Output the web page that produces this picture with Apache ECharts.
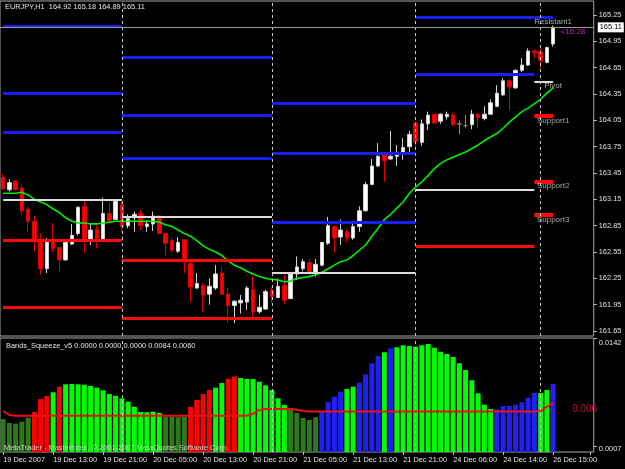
<!DOCTYPE html>
<html><head><meta charset="utf-8">
<script src="https://cdn.jsdelivr.net/npm/echarts@6/dist/echarts.min.js"></script>
<style>html,body{margin:0;padding:0;background:#000;}#c{width:625px;height:469px;}</style>
</head><body><div id="c"></div>
<script>
// ---------- text ----------
const symbolTitle = 'EURJPY,H1  164.92 165.18 164.89 165.11';
const indicatorTitle = 'Bands_Squeeze_v5 0.0000 0.0000 0.0000 0.0084 0.0060';
const copyrightText = 'MetaTrader - Masterforex, \u00a9 2001-2007 MetaQuotes Software Corp.';
const timeLabels = ['19 Dec 2007','19 Dec 13:00','19 Dec 21:00','20 Dec 05:00','20 Dec 13:00','20 Dec 21:00','21 Dec 05:00','21 Dec 13:00','21 Dec 21:00','24 Dec 06:00','24 Dec 14:00','26 Dec 15:00'];
const labelStep = 8;
const slotCount = 95;

// ---------- price data (H1 candles) ----------
const opens  = [163.40,163.26,163.36,163.28,163.04,162.90,162.66,162.36,162.67,162.60,162.46,162.64,162.76,163.07,162.69,162.81,162.69,162.99,162.92,163.09,162.85,162.94,162.99,162.84,162.87,162.96,162.76,162.68,162.56,162.69,162.42,162.14,162.17,162.07,162.14,162.31,162.07,161.94,161.97,161.98,162.12,161.87,161.90,162.12,162.03,162.17,162.02,162.30,162.36,162.43,162.31,162.40,162.65,162.84,162.72,162.78,162.71,162.84,163.02,163.32,163.53,163.66,163.61,163.64,163.68,163.75,164.02,163.80,164.01,164.12,164.04,164.09,164.11,164.01,163.99,164.00,164.12,164.07,164.12,164.21,164.34,164.50,164.42,164.62,164.68,164.84,164.83,164.71,164.92];
const highs  = [163.44,163.38,163.36,163.32,163.07,162.96,162.76,162.71,162.88,162.61,162.69,162.87,163.07,163.15,162.88,162.86,163.17,163.11,163.14,163.12,162.98,163.01,163.03,162.91,163.01,162.97,162.76,162.71,162.72,162.69,162.44,162.31,162.20,162.25,162.40,162.38,162.14,162.00,162.06,162.16,162.27,162.06,162.12,162.15,162.25,162.29,162.31,162.50,162.47,162.47,162.47,162.66,162.95,162.85,162.92,162.81,162.90,163.07,163.35,163.61,163.79,163.67,163.93,163.77,163.85,163.93,164.04,164.06,164.15,164.12,164.13,164.15,164.14,164.05,164.11,164.17,164.14,164.21,164.29,164.45,164.53,164.52,164.63,164.76,164.87,164.86,164.87,164.89,165.13];
const lows   = [163.26,163.24,163.25,162.97,162.78,162.55,162.29,162.31,162.54,162.33,162.45,162.63,162.74,162.54,162.63,162.59,162.68,162.88,162.91,162.78,162.82,162.78,162.80,162.78,162.79,162.76,162.50,162.54,162.54,162.31,161.98,162.13,161.86,161.95,162.12,162.06,161.74,161.74,161.85,161.89,161.81,161.85,161.89,161.97,162.03,161.96,162.01,162.23,162.33,162.27,162.27,162.39,162.63,162.54,162.63,162.66,162.69,162.78,163.01,163.31,163.52,163.35,163.60,163.53,163.60,163.69,163.74,163.76,163.94,164.01,164.01,164.06,163.98,163.89,163.96,163.95,163.96,164.05,164.11,164.20,164.33,164.17,164.41,164.60,164.67,164.76,164.64,164.70,164.89];
const closes = [163.27,163.34,163.26,163.02,162.90,162.69,162.36,162.67,162.59,162.46,162.66,162.74,163.06,162.69,162.80,162.70,162.99,162.91,163.13,162.84,162.93,162.98,162.85,162.87,162.96,162.76,162.65,162.57,162.66,162.44,162.15,162.19,162.06,162.16,162.30,162.07,161.94,161.99,162.00,162.14,161.87,161.92,162.10,162.04,162.16,162.00,162.30,162.38,162.44,162.31,162.41,162.66,162.85,162.71,162.80,162.71,162.84,163.02,163.32,163.53,163.64,163.59,163.64,163.67,163.74,163.89,163.81,164.01,164.11,164.02,164.12,164.12,164.00,164.01,163.99,164.12,164.08,164.12,164.25,164.36,164.50,164.43,164.62,164.68,164.84,164.82,164.73,164.88,165.11];
const maValues = [163.22,163.22,163.22,163.23,163.20,163.15,163.12,163.09,163.04,163.00,162.94,162.90,162.88,162.88,162.87,162.87,162.88,162.89,162.90,162.90,162.90,162.90,162.90,162.90,162.90,162.89,162.86,162.84,162.80,162.76,162.73,162.68,162.62,162.58,162.55,162.51,162.45,162.40,162.37,162.33,162.30,162.27,162.25,162.24,162.23,162.21,162.22,162.25,162.26,162.27,162.29,162.32,162.36,162.40,162.44,162.46,162.51,162.57,162.63,162.73,162.82,162.92,162.98,163.05,163.12,163.22,163.29,163.35,163.42,163.50,163.56,163.60,163.63,163.66,163.69,163.73,163.77,163.82,163.86,163.90,163.96,164.03,164.09,164.15,164.19,164.24,164.29,164.36,164.42];
const lastPrice = 165.11;
const timerText = '<16:28';
const priceTicks = [161.65,161.95,162.25,162.55,162.85,163.15,163.45,163.75,164.05,164.35,164.65,164.95,165.25];
const priceMin = 161.593;
const priceMax = 165.41;

// ---------- daily pivot levels ----------
const daySeparators = [19, 43, 66, 86];
const dayStart = [0, 19, 43, 66, 85];
const dayEnd   = [19, 43, 66, 85, 88];
const resistanceLevels = [[165.12,164.36,163.92],[164.77,164.11,163.62],[164.24,163.67,162.89],[165.22,164.57],[165.23]];
const pivotLevels      = [163.14,162.95,162.31,163.26,164.49];
const supportLevels    = [[162.68,161.92],[162.46,161.79],[],[162.61],[164.10,163.35,162.97]];
const tagNames  = ['Resistant1','Pivot','Support1','Support2','Support3'];
const tagPrices = [165.23,164.49,164.10,163.35,162.97];

// ---------- Bands_Squeeze_v5 ----------
const squeezeValues = [0.00411,0.00361,0.00353,0.00377,0.00427,0.00498,0.00660,0.00698,0.00744,0.00813,0.00843,0.00847,0.00843,0.00838,0.00822,0.00801,0.00769,0.00722,0.00701,0.00669,0.00627,0.00564,0.00498,0.00495,0.00502,0.00486,0.00436,0.00440,0.00432,0.00436,0.00561,0.00648,0.00722,0.00772,0.00801,0.00859,0.00913,0.00938,0.00922,0.00909,0.00909,0.00876,0.00831,0.00772,0.00669,0.00585,0.00523,0.00486,0.00424,0.00399,0.00432,0.00511,0.00623,0.00689,0.00751,0.00785,0.00813,0.00863,0.00968,0.01105,0.01196,0.01242,0.01292,0.01304,0.01329,0.01320,0.01312,0.01329,0.01345,0.01299,0.01249,0.01221,0.01183,0.01105,0.01021,0.00893,0.00731,0.00589,0.00536,0.00532,0.00573,0.00573,0.00589,0.00619,0.00676,0.00735,0.00735,0.00772,0.00847];
const squeezeStates = ['D','D','D','D','D','R','R','R','G','R','G','G','G','G','G','G','G','G','G','G','G','G','G','G','G','G','D','D','D','D','R','R','R','R','G','G','R','R','G','G','G','G','G','G','G','G','D','D','D','D','D','B','B','B','B','G','G','B','B','B','B','G','B','G','G','G','G','G','G','G','G','G','G','G','G','G','G','G','G','B','B','B','B','B','B','B','G','G','B'];
const signalValues = [0.00511,0.00461,0.00452,0.00452,0.00452,0.00452,0.00452,0.00452,0.00452,0.00452,0.00452,0.00452,0.00452,0.00452,0.00452,0.00452,0.00452,0.00452,0.00452,0.00452,0.00452,0.00452,0.00452,0.00452,0.00452,0.00452,0.00452,0.00452,0.00452,0.00452,0.00452,0.00452,0.00452,0.00452,0.00452,0.00452,0.00452,0.00452,0.00452,0.00452,0.00477,0.00523,0.00536,0.00536,0.00536,0.00536,0.00536,0.00525,0.00510,0.00504,0.00504,0.00504,0.00504,0.00504,0.00504,0.00504,0.00504,0.00504,0.00504,0.00504,0.00504,0.00504,0.00504,0.00504,0.00504,0.00504,0.00504,0.00504,0.00504,0.00504,0.00504,0.00504,0.00504,0.00504,0.00504,0.00504,0.00504,0.00504,0.00504,0.00504,0.00504,0.00504,0.00504,0.00504,0.00504,0.00504,0.00511,0.00564,0.00607];
const squeezeTicks = [0.0007, 0.0142];
const squeezeMax = 0.0142;
const signalLabel = '0.006';

// ---------- styling ----------
const FONT = "'Liberation Sans', sans-serif";
const FS = 7.4;
const TXT = '#e4e4e4';
const BLUE = '#1c1cf4', RED = '#ff0a0a', WHITE = '#dcdcdc';
const stateColor = { G: '#00ff00', D: '#2c7a1c', R: '#ff0000', B: '#2020f0' };

const categories = [];
for (let i = 0; i < slotCount; i++) categories.push(String(i));

const candleData = opens.map((o, i) => [o, closes[i], lows[i], highs[i]]);

function seg(x0, x1, p, color, width) {
  return [{ coord: [x0, p], lineStyle: { color: color, width: width, type: 'solid' } }, { coord: [x1, p] }];
}
const levelLines = [];
for (let d = 0; d < dayStart.length; d++) {
  const last = d === dayStart.length - 1;
  resistanceLevels[d].forEach(p => levelLines.push(seg(dayStart[d], dayEnd[d], p, BLUE, 3)));
  levelLines.push(seg(dayStart[d], dayEnd[d], pivotLevels[d], WHITE, 2));
  supportLevels[d].forEach(p => levelLines.push(seg(dayStart[d], dayEnd[d], p, RED, last ? 4 : 3)));
}
const sepLines = daySeparators.map(x => ({ xAxis: x }));

const tagData = tagNames.map((n, i) => ({ name: n, value: [dayEnd[dayEnd.length - 1], tagPrices[i]] }));
tagData.push({ name: timerText, value: [opens.length - 1, lastPrice],
  label: { position: 'right', distance: 7, offset: [0, 4], color: '#ff22ff', fontSize: 8 } });

function timeLabel(v) {
  const i = Number(v);
  if (i % labelStep !== 0) return '';
  return timeLabels[i / labelStep] || '';
}

const chart = echarts.init(document.getElementById('c'), null, { renderer: 'canvas' });
chart.setOption({
  backgroundColor: '#000',
  animation: false,
  title: [
    { text: symbolTitle, left: 5, top: 3, padding: 0, textStyle: { color: TXT, fontSize: FS, fontWeight: 'normal', fontFamily: FONT } },
    { text: indicatorTitle, left: 6, top: 342, padding: 0, textStyle: { color: TXT, fontSize: FS, fontWeight: 'normal', fontFamily: FONT } },
    { text: copyrightText, left: 4, top: 444, padding: 0, z: 10, textStyle: { color: '#d0d0d0', fontSize: FS, fontWeight: 'normal', fontFamily: FONT } }
  ],
  grid: [
    { left: 0, top: 1, width: 593.75, height: 335, show: true, borderColor: '#a8a8a8', borderWidth: 1, backgroundColor: 'transparent' },
    { left: 0, top: 338, width: 593.75, height: 114, show: true, borderColor: '#a8a8a8', borderWidth: 1, backgroundColor: 'transparent' }
  ],
  xAxis: [
    { type: 'category', gridIndex: 0, data: categories, boundaryGap: true,
      axisLine: { show: false }, axisTick: { show: false }, axisLabel: { show: false }, splitLine: { show: false } },
    { type: 'category', gridIndex: 1, data: categories, boundaryGap: true,
      axisLine: { show: false },
      axisTick: { show: true, interval: labelStep - 1, alignWithLabel: true, length: 3, lineStyle: { color: '#c0c0c0' } },
      axisLabel: { show: true, interval: 0, align: 'left', margin: 4, color: TXT, fontSize: FS, fontFamily: FONT,
        showMinLabel: true, showMaxLabel: true, hideOverlap: false,
        formatter: timeLabel },
      splitLine: { show: false } }
  ],
  yAxis: [
    { type: 'value', gridIndex: 0, position: 'right', min: priceMin, max: priceMax, scale: true,
      axisLine: { show: false }, splitLine: { show: false },
      axisTick: { show: true, customValues: priceTicks, length: 3, lineStyle: { color: '#c0c0c0' } },
      axisLabel: { show: true, customValues: priceTicks, margin: 5, color: TXT, fontSize: FS, fontFamily: FONT,
        formatter: (v) => v.toFixed(2) } },
    { type: 'value', gridIndex: 1, position: 'right', min: 0, max: squeezeMax,
      axisLine: { show: false }, splitLine: { show: false },
      axisTick: { show: true, customValues: squeezeTicks, length: 3, lineStyle: { color: '#c0c0c0' } },
      axisLabel: { show: true, customValues: squeezeTicks, margin: 5, color: TXT, fontSize: FS, fontFamily: FONT,
        formatter: (v) => (v > 0.01 ? '{t|' : '{b|') + v.toFixed(4) + '}',
        rich: { t: { padding: [10, 0, 0, 0], color: TXT, fontSize: FS, fontFamily: FONT },
                b: { padding: [5, 0, 0, 0], color: TXT, fontSize: FS, fontFamily: FONT } } } }
  ],
  series: [
    { type: 'candlestick', xAxisIndex: 0, yAxisIndex: 0, data: candleData, barWidth: 4, z: 3,
      itemStyle: { color: '#ffffff', color0: '#ff0000', borderColor: '#d0d0d0', borderColor0: '#e00000', borderColorDoji: '#a88448', borderWidth: 1 } },
    { type: 'line', xAxisIndex: 0, yAxisIndex: 0, data: maValues, symbol: 'none', smooth: false, z: 4,
      lineStyle: { color: '#00ee00', width: 1.6 },
      markLine: { silent: true, symbol: ['none', 'none'], animation: false, label: { show: false },
        data: levelLines.concat(sepLines.map(s => Object.assign({ lineStyle: { color: '#c8c8c8', type: [3, 3], width: 1 } }, s))).concat([
          { yAxis: lastPrice, lineStyle: { color: '#9c9c9c', width: 1, type: 'solid' },
            label: { show: true, position: 'end', distance: 4, formatter: lastPrice.toFixed(2), backgroundColor: '#ffffff',
              color: '#000', padding: [2, 2, 1, 2], fontSize: FS, fontFamily: FONT } }
        ]) } },
    { type: 'scatter', xAxisIndex: 0, yAxisIndex: 0, data: tagData, symbolSize: 1, z: 5,
      itemStyle: { color: 'transparent' },
      label: { show: true, position: 'bottom', distance: 0, color: '#cfcfcf', fontSize: 8, fontFamily: FONT, formatter: (p) => p.name } },
    { type: 'bar', xAxisIndex: 1, yAxisIndex: 1, barWidth: 5, z: 2,
      data: squeezeValues.map((v, i) => ({ value: v, itemStyle: { color: stateColor[squeezeStates[i]] } })),
      markLine: { silent: true, symbol: ['none', 'none'], label: { show: false },
        lineStyle: { color: '#c8c8c8', type: [3, 3], width: 1 }, data: sepLines } },
    { type: 'line', xAxisIndex: 1, yAxisIndex: 1, data: signalValues, symbol: 'none', z: 3,
      lineStyle: { color: '#ee1010', width: 2 },
      endLabel: { show: true, formatter: signalLabel, color: '#d01030', fontSize: 10, fontFamily: FONT, offset: [11, 6] } }
  ]
});
</script></body></html>
